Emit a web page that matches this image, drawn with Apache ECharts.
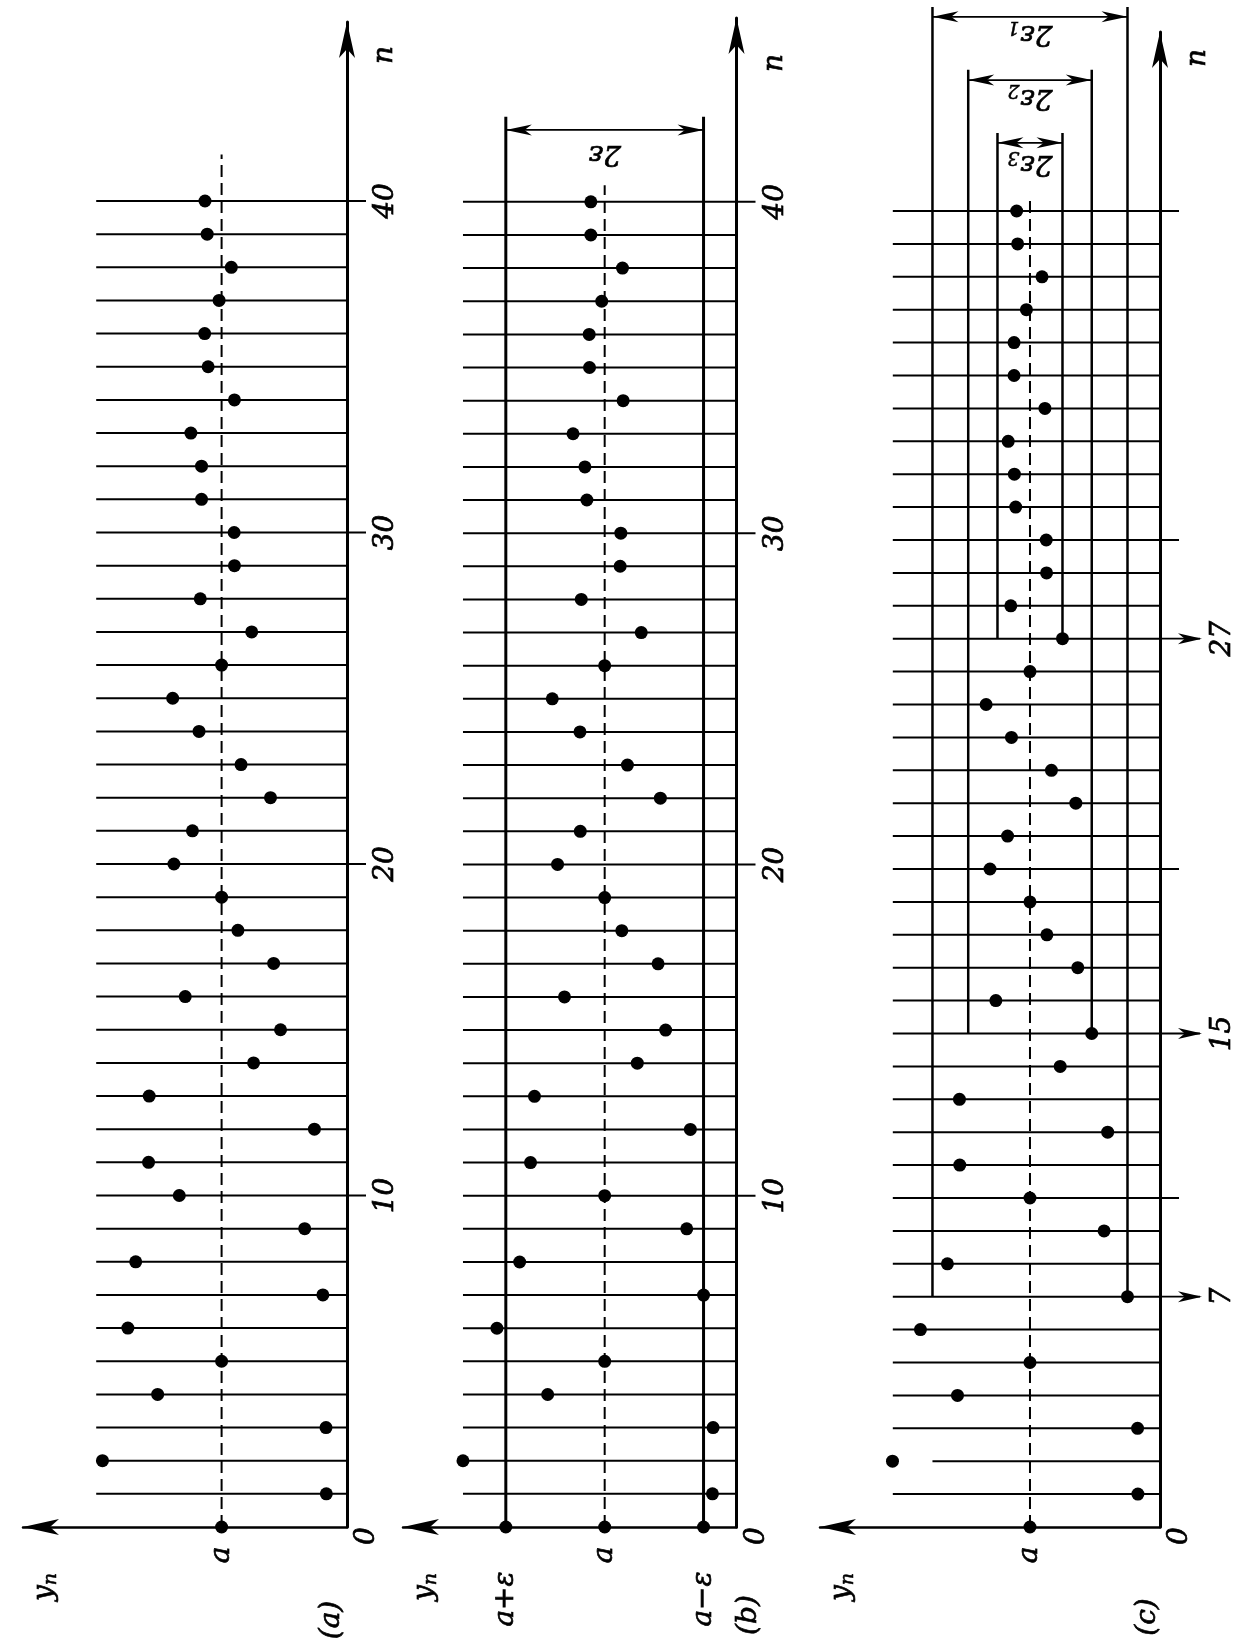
<!DOCTYPE html>
<html>
<head>
<meta charset="utf-8">
<script src="https://cdn.jsdelivr.net/npm/echarts@6/dist/echarts.min.js"></script>
<style>html,body{margin:0;padding:0;background:#fff}#c{width:1245px;height:1649px}</style>
</head>
<body>
<div id="c"></div>
<script>
// ---------- data ----------
const n = [1,2,3,4,5,6,7,8,9,10,11,12,13,14,15,16,17,18,19,20,21,22,23,24,25,26,27,28,29,30,31,32,33,34,35,36,37,38,39,40];
// panel (a): y_n values (a = 4)
const yA = [0.66,7.80,0.67,6.04,4.00,6.99,0.77,6.74,1.35,5.35,6.33,1.04,6.31,2.98,2.12,5.16,2.34,3.48,4.00,5.52,4.93,2.44,3.38,4.72,5.56,4.00,3.04,4.68,3.59,3.60,4.64,4.64,4.98,3.59,4.43,4.54,4.08,3.69,4.46,4.53];
// panel (b)
const yB = [0.73,8.30,0.71,5.73,4.00,7.27,1.00,6.58,1.51,4.00,6.25,1.40,6.13,3.01,2.15,5.22,2.38,3.48,4.00,5.43,4.74,2.31,3.31,4.75,5.59,4.00,2.89,4.71,3.53,3.51,4.54,4.60,4.96,3.44,4.46,4.47,4.09,3.46,4.42,4.42];
// panel (c)
const yC = [0.68,8.23,0.69,6.23,4.00,7.37,1.00,6.54,1.72,4.00,6.16,1.61,6.17,3.07,2.10,5.05,2.53,3.48,4.00,5.23,4.69,2.59,3.34,4.57,5.35,4.00,3.00,4.59,3.49,3.50,4.44,4.48,4.67,3.54,4.49,4.49,4.11,3.63,4.38,4.41];
const A = 4;                       // level a
const EPS = 3;                     // ε of panel (b)
const epsC = [3, 1.9, 1.0];        // ε1, ε2, ε3 of panel (c)
const Nc = [7, 15, 27];            // N(ε1), N(ε2), N(ε3)
const nTicks = [10, 20, 30, 40];
const nTickLabels = ['10', '20', '30', '40'];
const cTickLabels = ['7', '15', '27'];
const panelNames = ['(a)', '(b)', '(c)'];

// ---------- layout ----------
const FF = '"DejaVu Serif","Liberation Serif",serif';
const RICH = {
  t: {fontFamily: FF, fontStyle: 'italic', fontSize: 28, fill: '#000', stroke: '#000', lineWidth: 0.7, lineHeight: 32},
  s: {fontFamily: FF, fontStyle: 'italic', fontSize: 19, fill: '#000', stroke: '#000', lineWidth: 0.5, lineHeight: 32, verticalAlign: 'bottom'}
};
const GEOM = [
  {left: 23,  right: 898,   top: 22, xMax: 10.335, yMax: 45.40, stemFrom: 8.0,  dashTop: 41.4, nOff: 33},
  {left: 403, right: 508.5, top: 18, xMax: 10.12,  yMax: 45.55, stemFrom: 8.3,  dashTop: 40.5, nOff: 45},
  {left: 820, right: 85,    top: 32, xMax: 10.46,  yMax: 45.44, stemFrom: 8.22, dashTop: 40.4, nOff: 26, stemOverride: {2: 7.0}}
];
const BOTTOM = 122;
const ROT = Math.PI / 2;

function L(x1, y1, x2, y2, w, dash) {
  return {type: 'line', shape: {x1, y1, x2, y2}, style: {stroke: '#000', lineWidth: w, lineDash: dash || null}};
}
function T(x, y, text, rot) {
  return {type: 'text', x, y, rotation: rot, style: {text, rich: RICH, align: 'center', verticalAlign: 'middle'}};
}
function head(x, y, dir, len, hw) {
  return {type: 'polygon', shape: {points: [[x, y], [x - dir * len, y - hw], [x - dir * len * 0.72, y], [x - dir * len, y + hw]]}, style: {fill: '#000'}};
}
function bracket(api, v1, v2, nv, out) {
  const p1 = api.coord([v1, nv]), p2 = api.coord([v2, nv]);
  const xl = Math.min(p1[0], p2[0]), xr = Math.max(p1[0], p2[0]), y = p1[1];
  out.push(L(xl, y, xr, y, 1.8));
  out.push(head(xl, y, -1, 26, 5.5));
  out.push(head(xr, y, 1, 26, 5.5));
}

const grids = [], xAxes = [], yAxes = [], series = [];
const yVals = [yA, yB, yC];

GEOM.forEach((g, i) => {
  grids.push({left: g.left, right: g.right, top: g.top, bottom: BOTTOM});
  xAxes.push({
    gridIndex: i, type: 'value', min: 0, max: g.xMax, inverse: true, position: 'bottom',
    axisLine: {show: true, onZero: false, symbol: ['arrow', 'none'], symbolSize: [12, 36], lineStyle: {color: '#000', width: 2.5}},
    axisTick: {show: false}, axisLabel: {show: false}, splitLine: {show: false}
  });
  yAxes.push({
    gridIndex: i, type: 'value', min: 0, max: g.yMax, position: 'right',
    axisLine: {show: true, onZero: false, symbol: ['none', 'arrow'], symbolSize: [12, 36], lineStyle: {color: '#000', width: 3}},
    axisTick: {show: false}, axisLabel: {show: false}, splitLine: {show: false}
  });

  // stems
  series.push({
    type: 'custom', xAxisIndex: i, yAxisIndex: i, z: 1, silent: true,
    data: n.map(k => [0, k]),
    renderItem: (params, api) => {
      const k = api.value(1);
      const from = (g.stemOverride && g.stemOverride[k] != null) ? g.stemOverride[k] : g.stemFrom;
      const p0 = api.coord([from, k]), p1 = api.coord([0, k]);
      const ext = nTicks.indexOf(k) >= 0 ? 19 : 0;
      return L(p0[0], p0[1], p1[0] + ext, p1[1], 2);
    }
  });

  // annotations
  series.push({
    type: 'custom', xAxisIndex: i, yAxisIndex: i, z: 2, silent: true,
    data: [[0, 0]],
    renderItem: (params, api) => {
      const ch = [];
      const o = api.coord([0, 0]);
      const aB = api.coord([A, 0]);
      const top = api.coord([0, g.yMax]);
      const leftEnd = api.coord([g.xMax, 0]);
      // dashed a-line
      const aT = api.coord([A, g.dashTop]);
      ch.push(L(aB[0], aB[1], aT[0], aT[1], 2, [12, 6]));
      // labels at the bottom
      ch.push(T(o[0] + 20, o[1] + 9, '{t|0}', ROT));
      ch.push(T(aB[0], aB[1] + 28, '{t|a}', ROT));
      ch.push(T(leftEnd[0] + 22, leftEnd[1] + 60, '{t|y}{s|n}', ROT));
      ch.push(T(top[0] + 38, top[1] + g.nOff, '{t|n}', ROT));
      if (i === 0) ch.push(T(o[0] - 15, o[1] + 93, '{t|' + panelNames[i] + '}', ROT));
      if (i === 1) ch.push(T(o[0] + 12, o[1] + 88, '{t|' + panelNames[i] + '}', ROT));
      if (i === 2) ch.push(T(o[0] - 12, o[1] + 90, '{t|' + panelNames[i] + '}', ROT));
      if (i < 2) {
        nTicks.forEach((t, j) => {
          const p = api.coord([0, t]);
          ch.push(T(p[0] + 39, p[1], '{t|' + nTickLabels[j] + '}', ROT));
        });
      }
      if (i === 1) {
        const lvTop = 42.57, brN = 42.17, lbN = 41.48;
        [A + EPS, A - EPS].forEach(v => {
          const p0 = api.coord([v, 0]), p1 = api.coord([v, lvTop]);
          ch.push(L(p0[0], p0[1], p1[0], p1[1], 3));
        });
        bracket(api, A + EPS, A - EPS, brN, ch);
        const lp = api.coord([A, lbN]);
        ch.push(T(lp[0], lp[1], '{t|2ε}', Math.PI));
        const pp = api.coord([A + EPS, 0]), pm = api.coord([A - EPS, 0]);
        ch.push(T(pp[0], pp[1] + 72, '{t|a+ε}', ROT));
        ch.push(T(pm[0], pm[1] + 72, '{t|a−ε}', ROT));
      }
      if (i === 2) {
        const lvTop = [46.2, 44.29, 42.37], brN = [45.9, 43.98, 42.07], lbN = [45.41, 43.47, 41.46];
        epsC.forEach((e, j) => {
          [A + e, A - e].forEach(v => {
            const p0 = api.coord([v, Nc[j]]), p1 = api.coord([v, lvTop[j]]);
            ch.push(L(p0[0], p0[1], p1[0], p1[1], 2.5));
          });
          bracket(api, A + e, A - e, brN[j], ch);
          const lp = api.coord([A, lbN[j]]);
          ch.push(T(lp[0], lp[1], '{t|2ε}{s|' + (j + 1) + '}', Math.PI));
          const pa = api.coord([0, Nc[j]]);
          ch.push(L(pa[0], pa[1], pa[0] + 40, pa[1], 1.8));
          ch.push(head(pa[0] + 42, pa[1], 1, 24, 5.5));
          ch.push(T(pa[0] + 63, pa[1], '{t|' + cTickLabels[j] + '}', ROT));
        });
      }
      return {type: 'group', children: ch};
    }
  });

  // points
  series.push({
    type: 'scatter', xAxisIndex: i, yAxisIndex: i, z: 3, silent: true,
    symbol: 'circle', symbolSize: 13, itemStyle: {color: '#000', opacity: 1},
    data: n.map((k, j) => [yVals[i][j], k])
  });
  // marked levels on the y_n axis
  const base = i === 1 ? [[A + EPS, 0], [A, 0], [A - EPS, 0]] : [[A, 0]];
  series.push({
    type: 'scatter', xAxisIndex: i, yAxisIndex: i, z: 3, silent: true,
    symbol: 'circle', symbolSize: 13, itemStyle: {color: '#000', opacity: 1}, data: base
  });
});

const chart = echarts.init(document.getElementById('c'), null, {renderer: 'canvas', width: 1245, height: 1649});
chart.setOption({
  animation: false,
  backgroundColor: '#fff',
  grid: grids, xAxis: xAxes, yAxis: yAxes, series: series
});
</script>
</body>
</html>
